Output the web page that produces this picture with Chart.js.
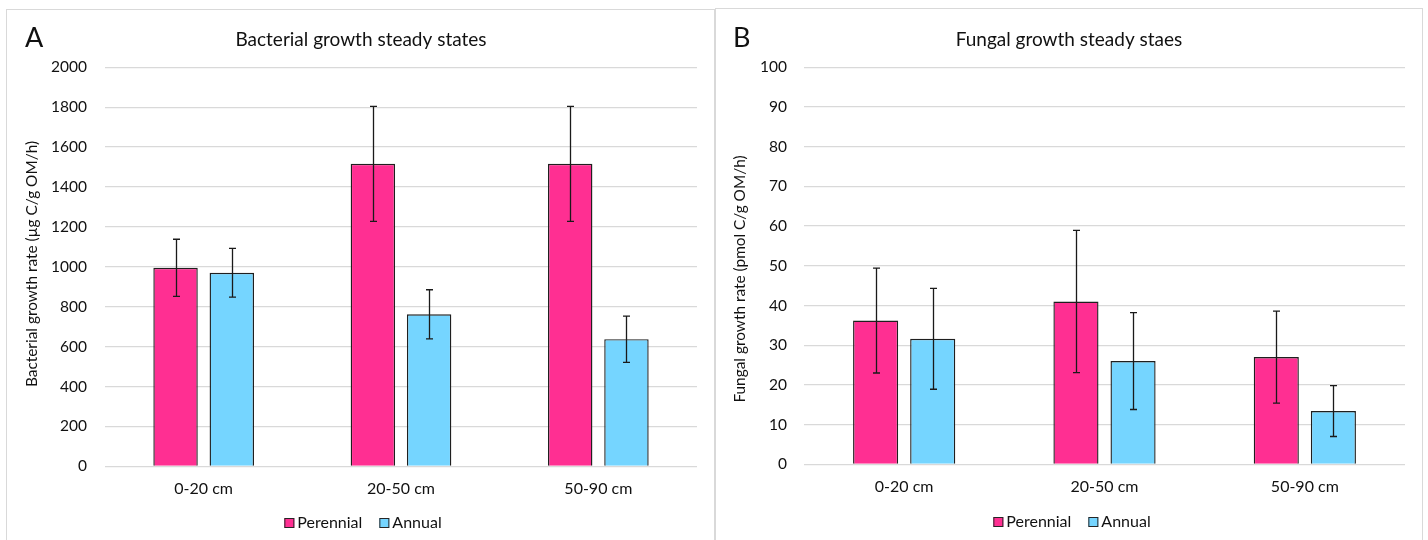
<!DOCTYPE html>
<html>
<head>
<meta charset="utf-8">
<script src="https://cdn.jsdelivr.net/npm/chart.js@4.4.1/dist/chart.umd.min.js"></script>
<style>
  html, body { margin: 0; padding: 0; background: #fff; width: 1428px; height: 540px; overflow: hidden; }
  canvas { position: absolute; top: 0; }
  .frame { position: absolute; border: 1px solid #d9d9d9; box-sizing: border-box; pointer-events: none; }
</style>
</head>
<body>
<canvas id="chartA" width="714" height="540" style="left:0px"></canvas>
<canvas id="chartB" width="714" height="540" style="left:714px"></canvas>
<div class="frame" style="left:6px;top:9px;width:709px;height:545px"></div>
<div class="frame" style="left:715px;top:8px;width:708px;height:545px"></div>
<script>
// ---------------- data ----------------
const categories = ['0-20 cm', '20-50 cm', '50-90 cm'];
const seriesNames = ['Perennial', 'Annual'];
const seriesColors = ['#FF2F92', '#75D5FF'];

const bactPerennial    = [995, 1516, 1516];
const bactPerennialErr = [143, 288, 288];
const bactAnnual       = [970, 762, 637];
const bactAnnualErr    = [122, 123, 116];
const bactTicks        = [0, 200, 400, 600, 800, 1000, 1200, 1400, 1600, 1800, 2000];

const fungPerennial    = [36.2, 41.0, 27.0];
const fungPerennialErr = [13.2, 17.9, 11.6];
const fungAnnual       = [31.6, 26.0, 13.4];
const fungAnnualErr    = [12.7, 12.2, 6.4];
const fungTicks        = [0, 10, 20, 30, 40, 50, 60, 70, 80, 90, 100];

const titleA  = 'Bacterial growth steady states';
const yTitleA = 'Bacterial growth rate (µg C/g OM/h)';
const titleB  = 'Fungal growth steady staes';
const yTitleB = 'Fungal growth rate (pmol C/g OM/h)';

// ---------------- plugins ----------------
const FONT = "Lato, 'Open Sans', sans-serif";
const TEXT = '#111111';

const errorBars = {
  id: 'errorBars',
  afterDatasetsDraw(chart) {
    const ctx = chart.ctx, ys = chart.scales.y;
    chart.data.datasets.forEach((ds, i) => {
      const meta = chart.getDatasetMeta(i);
      meta.data.forEach((bar, j) => {
        const v = ds.data[j], e = ds.errors[j];
        const yt = ys.getPixelForValue(v + e), yb = ys.getPixelForValue(v - e);
        const x = Math.round(bar.x) + 0.5;
        ctx.save();
        ctx.strokeStyle = '#1a1a1a';
        ctx.lineWidth = 1.3;
        ctx.beginPath();
        ctx.moveTo(x, yt); ctx.lineTo(x, yb);
        ctx.moveTo(x - 3.5, yt); ctx.lineTo(x + 3.5, yt);
        ctx.moveTo(x - 3.5, yb); ctx.lineTo(x + 3.5, yb);
        ctx.stroke();
        ctx.restore();
      });
    });
  }
};

const decor = {
  id: 'decor',
  afterDraw(chart, args, o) {
    const ctx = chart.ctx;
    ctx.save();
    ctx.fillStyle = TEXT;
    // panel letter
    ctx.font = o.letterSize + 'px ' + FONT;
    ctx.textAlign = 'left'; ctx.textBaseline = 'middle';
    ctx.fillText(o.letter, o.letterX, o.letterY);
    // title
    ctx.font = o.titleSize + 'px ' + FONT;
    ctx.textAlign = 'center';
    ctx.fillText(o.title, o.titleX, o.titleY);
    // y title
    ctx.save();
    ctx.translate(o.yTitleX, o.yTitleY);
    ctx.rotate(-Math.PI / 2);
    ctx.font = o.yTitleSize + 'px ' + FONT;
    ctx.fillText(o.yTitle, 0, 0);
    ctx.restore();
    // legend
    ctx.font = o.legendSize + 'px ' + FONT;
    const ds = chart.data.datasets;
    const box = 10, gap = 3, itemGap = 17;
    const widths = ds.map(d => ctx.measureText(d.label).width);
    let total = 0;
    widths.forEach((w, i) => { total += box + gap + w + (i < widths.length - 1 ? itemGap : 0); });
    let x = o.legendCx - total / 2;
    ctx.textAlign = 'left'; ctx.textBaseline = 'middle';
    ds.forEach((d, i) => {
      ctx.fillStyle = d.backgroundColor;
      ctx.fillRect(x, o.legendY - box / 2, box, box);
      ctx.strokeStyle = '#262626'; ctx.lineWidth = 1;
      ctx.strokeRect(x + 0.5, o.legendY - box / 2 + 0.5, box - 1, box - 1);
      ctx.fillStyle = TEXT;
      ctx.fillText(d.label, x + box + gap, o.legendY);
      x += box + gap + widths[i] + itemGap;
    });
    ctx.restore();
  }
};

function makeChart(id, cfg) {
  return new Chart(document.getElementById(id), {
    type: 'bar',
    data: {
      labels: categories,
      datasets: [
        { label: seriesNames[0], data: cfg.s1, errors: cfg.e1, backgroundColor: seriesColors[0],
          borderColor: '#1f1f1f', borderWidth: 1.4 },
        { label: seriesNames[1], data: cfg.s2, errors: cfg.e2, backgroundColor: seriesColors[1],
          borderColor: '#1f1f1f', borderWidth: 1.4 }
      ]
    },
    options: {
      responsive: false,
      animation: false,
      devicePixelRatio: 1,
      layout: { padding: { left: 0, right: cfg.padRight, top: cfg.top, bottom: 540 - cfg.bottom - 40 } },
      datasets: { bar: { categoryPercentage: 0.57, barPercentage: 0.79 } },
      scales: {
        x: {
          grid: { display: false, drawTicks: false },
          border: { display: false },
          ticks: { padding: 13, color: TEXT, font: { family: FONT, size: 16 } },
          afterFit(s) { s.height = 40; }
        },
        y: {
          min: cfg.ticks[0], max: cfg.ticks[cfg.ticks.length - 1],
          afterBuildTicks(s) { s.ticks = cfg.ticks.map(v => ({ value: v })); },
          grid: { color: '#d9d9d9', lineWidth: 1.3, drawTicks: false },
          border: { display: false },
          ticks: { padding: cfg.tickPad, color: TEXT, font: { family: FONT, size: 15.5 },
                   callback: (v) => String(v) },
          afterFit(s) { s.width = cfg.yWidth; }
        }
      },
      plugins: {
        legend: { display: false },
        title: { display: false },
        tooltip: { enabled: false },
        decor: cfg.decor
      }
    },
    plugins: [errorBars, decor]
  });
}

makeChart('chartA', {
  s1: bactPerennial, e1: bactPerennialErr, s2: bactAnnual, e2: bactAnnualErr,
  ticks: bactTicks, yWidth: 105, padRight: 17, top: 67.3, bottom: 466.3, tickPad: 18,
  decor: { letter: 'A', letterX: 25, letterY: 38, letterSize: 27,
           title: titleA, titleX: 361, titleY: 40, titleSize: 19,
           yTitle: yTitleA, yTitleX: 32, yTitleY: 264, yTitleSize: 15.4,
           legendCx: 363, legendY: 523, legendSize: 16 }
});

makeChart('chartB', {
  s1: fungPerennial, e1: fungPerennialErr, s2: fungAnnual, e2: fungAnnualErr,
  ticks: fungTicks, yWidth: 90, padRight: 23, top: 67.3, bottom: 464.3, tickPad: 17,
  decor: { letter: 'B', letterX: 19, letterY: 38, letterSize: 27,
           title: titleB, titleX: 355, titleY: 40, titleSize: 19,
           yTitle: yTitleB, yTitleX: 26, yTitleY: 279, yTitleSize: 15.4,
           legendCx: 358, legendY: 522, legendSize: 16 }
});
</script>
</body>
</html>
